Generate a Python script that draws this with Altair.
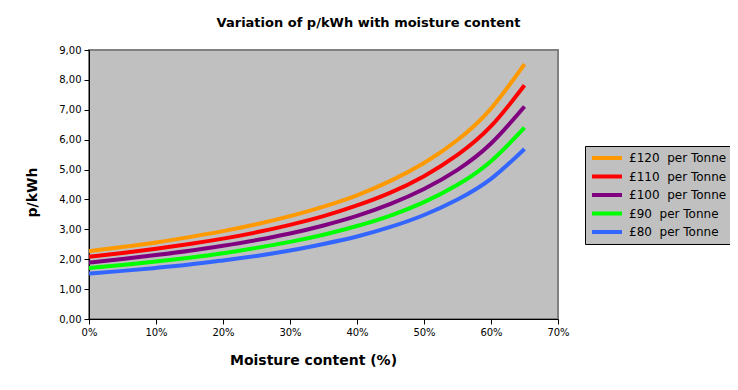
import altair as alt
import pandas as pd

moisture = [0.00, 0.05, 0.10, 0.15, 0.20, 0.25, 0.30, 0.35, 0.40, 0.45, 0.50, 0.55, 0.60, 0.65]

series = ["£120\u00a0 per Tonne", "£110\u00a0 per Tonne", "£100\u00a0 per Tonne",
          "£90\u00a0 per Tonne", "£80\u00a0 per Tonne"]
colors = ["#FF9900", "#FF0000", "#800080", "#00FF00", "#3366FF"]

p120 = [2.27, 2.41, 2.56, 2.74, 2.94, 3.17, 3.44, 3.76, 4.14, 4.62, 5.22, 5.99, 7.04, 8.53]
p110 = [2.08, 2.21, 2.35, 2.51, 2.69, 2.90, 3.15, 3.44, 3.80, 4.23, 4.78, 5.49, 6.45, 7.82]
p100 = [1.89, 2.01, 2.14, 2.28, 2.45, 2.64, 2.86, 3.13, 3.45, 3.85, 4.35, 4.99, 5.87, 7.11]
p90 = [1.71, 1.81, 1.92, 2.05, 2.20, 2.38, 2.58, 2.82, 3.11, 3.46, 3.91, 4.49, 5.28, 6.40]
p80 = [1.52, 1.61, 1.71, 1.82, 1.96, 2.11, 2.29, 2.51, 2.76, 3.08, 3.48, 4.00, 4.69, 5.69]

y_ticks = [0, 1, 2, 3, 4, 5, 6, 7, 8, 9]
x_ticks = [0, 0.1, 0.2, 0.3, 0.4, 0.5, 0.6, 0.7]

rows = []
for name, vals in zip(series, [p120, p110, p100, p90, p80]):
    for m, v in zip(moisture, vals):
        rows.append({"moisture": m, "pkwh": v, "series": name})
df = pd.DataFrame(rows)

FONT = "DejaVu Sans"

chart = alt.Chart(df).mark_line(strokeWidth=4, interpolate="natural").encode(
    x=alt.X("moisture:Q",
            scale=alt.Scale(domain=[0, 0.7], nice=False, zero=False),
            axis=alt.Axis(values=x_ticks, format=".0%", title="Moisture content (%)",
                          titleX=224, titleY=41, titleBaseline="middle", titleAlign="center",
                          titleFontSize=14, titleFontWeight="bold")),
    y=alt.Y("pkwh:Q",
            scale=alt.Scale(domain=[0, 9], nice=False),
            axis=alt.Axis(values=y_ticks,
                          labelExpr="replace(format(datum.value, '.2f'), '.', ',')",
                          title="p/kWh", titleX=-57, titleY=142, titleAngle=270,
                          titleBaseline="middle", titleAlign="center",
                          titleFontSize=14, titleFontWeight="bold")),
    color=alt.Color("series:N",
                    scale=alt.Scale(domain=series, range=colors),
                    sort=series,
                    legend=alt.Legend(title=None, orient="none", legendX=496, legendY=96,
                                      strokeColor="black", fillColor="#C0C0C0",
                                      padding=5, symbolType="stroke", symbolSize=900,
                                      clipHeight=14,
                                      symbolStrokeWidth=4, labelFontSize=12,
                                      labelFont=FONT, labelColor="black",
                                      rowPadding=4.5, labelOffset=5,
                                      symbolOpacity=1, labelLimit=200)),
).properties(
    width=469,
    height=269,
    title=alt.TitleParams("Variation of p/kWh with moisture content", anchor="middle",
                          dx=45, offset=15, fontSize=13, fontWeight="bold", font=FONT,
                          color="black"),
    autosize=alt.AutoSizeParams(type="none"),
    padding={"left": 81, "top": 42, "right": 172, "bottom": 63},
    background="white",
).configure_view(
    fill="#C0C0C0", stroke="#808080", strokeWidth=2
).configure_axis(
    domainColor="black", tickColor="black", tickSize=5, grid=False,
    labelFont=FONT, labelFontSize=10, labelColor="black", labelPadding=3,
    labelFlush=False, labelOverlap=False,
    titleFont=FONT, titleColor="black"
)

chart.save("out.html", embed_options={"renderer": "svg", "actions": False})
